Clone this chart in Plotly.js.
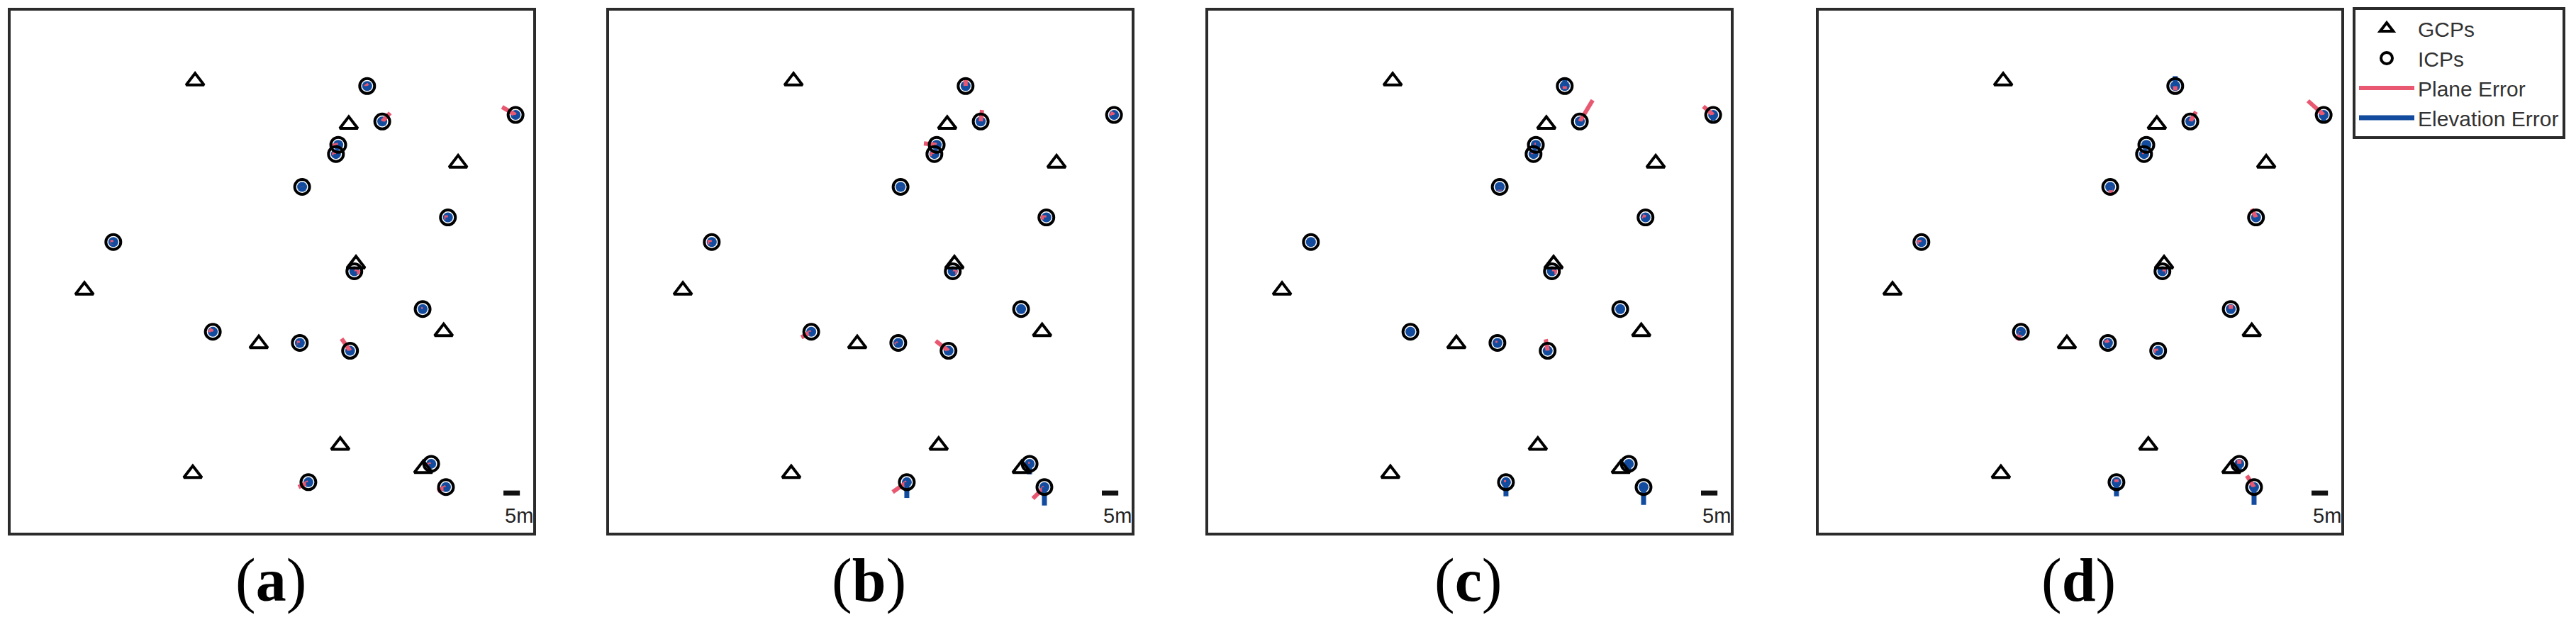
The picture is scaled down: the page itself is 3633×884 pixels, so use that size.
<!DOCTYPE html>
<html>
<head>
<meta charset="utf-8">
<script src="https://cdn.plot.ly/plotly-3.0.1.min.js"></script>
<style>
  html, body { margin: 0; padding: 0; background: #ffffff; }
  #chart { width: 3633px; height: 884px; }
</style>
</head>
<body>
<div id="chart"></div>
<script>
// ---------- data (metres, local site coordinates) ----------
const panelLabels = ['a', 'b', 'c', 'd'];

// ground control points
const gcpX = [56.6, 103.4, 136.7, 105.6, 22.9, 132.3, 76.0, 100.8, 55.9, 126.1];
const gcpY = [137.9, 124.7, 112.9, 82.2, 74.2, 61.6, 57.9, 27.0, 18.4, 19.9];

// independent check points
const icpX = [109.0, 154.2, 113.6, 100.2, 99.5, 89.2, 133.6, 31.7, 105.1, 125.9, 62.0, 88.5, 103.8, 128.5, 91.1, 133.0];
const icpY = [136.4, 127.6, 125.6, 118.5, 115.7, 105.7, 96.4, 88.9, 80.0, 68.5, 61.6, 58.2, 55.8, 21.4, 15.8, 14.3];

// plane error vectors (drawn, m) and elevation error (drawn vertically, m) per panel
const planeDxA = [-0.4, -4.1, 2.4, -1.9, -1.1, 0.0, -1.1, -0.9, 1.7, -0.4, -1.1, -0.9, -2.6, -1.3, -3.0, -2.6];
const planeDyA = [0.6, 2.4, 2.6, -0.4, 0.4, -0.6, 0.0, 0.0, -0.4, 0.0, 0.6, 0.0, 3.7, -0.6, -1.5, -1.1];
const elevDzA  = [-0.9, -0.8, -0.7, -0.9, -0.8, -0.9, -0.7, -0.6, -0.9, -0.8, -0.9, -0.6, -0.9, -0.9, -1.0, -0.9];

const planeDxB = [0.0, -1.1, 0.4, -3.9, -1.3, 0.0, -1.7, -1.3, 1.3, 0.0, -3.0, -0.9, -3.9, -0.4, -4.3, -3.5];
const planeDyB = [2.6, 0.6, 3.5, 0.4, 0.0, -0.6, 0.0, 0.0, -0.4, 0.0, -1.7, -0.6, 3.0, 0.0, -3.0, -3.5];
const elevDzB  = [-1.3, -1.0, -1.3, -0.9, -0.9, -0.9, -1.0, -0.6, -0.9, -1.3, -0.9, -1.3, -1.0, -3.2, -4.8, -5.6];

const planeDxC = [0.0, -3.0, 3.9, -0.4, -0.4, 0.0, -0.9, 0.0, 1.5, 0.0, 0.0, -0.6, -0.6, 0.0, -0.6, 0.0];
const planeDyC = [-0.9, 2.6, 6.5, 0.0, -0.4, -1.1, 0.4, 0.0, -0.4, 0.0, 0.0, 0.0, 3.5, 0.0, 0.0, 0.0];
const elevDzC  = [2.6, -1.7, -1.0, -0.9, -0.9, -0.9, -0.9, -1.0, -1.0, -0.9, -0.9, -1.0, -1.0, -2.6, -4.3, -5.4];

const planeDxD = [0.0, -4.8, 1.7, 0.0, -0.6, 0.4, -1.3, -1.3, 1.1, 0.0, -1.1, -0.6, -1.3, 0.0, 0.0, -2.2];
const planeDyD = [-1.3, 4.3, 3.0, 0.0, 0.0, -2.6, 2.6, 0.0, 0.0, 1.3, -2.6, 0.9, 0.0, 1.3, 0.9, 3.5];
const elevDzD  = [3.0, -2.2, -1.0, -0.9, -0.9, -1.0, -1.0, -0.9, -1.0, -1.3, -1.0, -1.7, -0.9, -2.6, -4.3, -5.4];

const scaleBarLength = 5;          // metres
const scaleBarLabel = '5m';
const legendNames = ['GCPs', 'ICPs', 'Plane Error', 'Elevation Error'];

// ---------- layout geometry (pixels) ----------
const W = 3633, H = 884;
const panelLeft = [13, 857, 1702, 2563];
const panelWidth = 741;
const panelTop = 13, panelBottom = 753;
const xRange = [0, 160];
const yRange = [0, 160 * (panelBottom - panelTop) / panelWidth];

const PINK = '#e95871';
const BLUE = '#134c9e';
const BOX = '#2b2b2b';

const planeDx = [planeDxA, planeDxB, planeDxC, planeDxD];
const planeDy = [planeDyA, planeDyB, planeDyC, planeDyD];
const elevDz = [elevDzA, elevDzB, elevDzC, elevDzD];

const traces = [];
const layout = {
  width: W, height: H,
  margin: {l: 0, r: 0, t: 0, b: 0},
  paper_bgcolor: '#ffffff', plot_bgcolor: '#ffffff',
  showlegend: true,
  legend: {
    x: 3318 / W, y: 1 - 10 / H, xanchor: 'left', yanchor: 'top',
    bgcolor: '#ffffff', bordercolor: BOX, borderwidth: 4,
    font: {family: 'Liberation Sans, Arial, sans-serif', size: 30, color: '#333333'},
    itemwidth: 78, tracegroupgap: 0, traceorder: 'normal'
  },
  shapes: [], annotations: []
};

for (let k = 0; k < 4; k++) {
  const sfx = k === 0 ? '' : String(k + 1);
  const xa = 'x' + sfx, ya = 'y' + sfx;
  const axBase = {showgrid: false, zeroline: false, showticklabels: false, ticks: '', showline: false, fixedrange: true};
  layout['xaxis' + sfx] = Object.assign({}, axBase, {
    domain: [panelLeft[k] / W, (panelLeft[k] + panelWidth) / W], range: xRange, anchor: ya
  });
  layout['yaxis' + sfx] = Object.assign({}, axBase, {
    domain: [1 - panelBottom / H, 1 - panelTop / H], range: yRange, anchor: xa
  });

  const show = k === 3;
  const px = [], py = [], ex = [], ey = [];
  for (let i = 0; i < icpX.length; i++) {
    px.push(icpX[i], icpX[i] + planeDx[k][i], null);
    py.push(icpY[i], icpY[i] + planeDy[k][i], null);
    ex.push(icpX[i], icpX[i], null);
    ey.push(icpY[i], icpY[i] + elevDz[k][i], null);
  }
  // centre dot of elevation error
  traces.push({
    type: 'scatter', mode: 'markers', xaxis: xa, yaxis: ya, x: icpX, y: icpY,
    marker: {symbol: 'circle', size: 14, color: BLUE, line: {width: 0}},
    showlegend: false, hoverinfo: 'skip'
  });
  traces.push({
    type: 'scatter', mode: 'lines', xaxis: xa, yaxis: ya, x: px, y: py,
    line: {color: PINK, width: 6}, name: legendNames[2], legendgroup: 'pe',
    legendrank: 3, showlegend: show, hoverinfo: 'skip'
  });
  traces.push({
    type: 'scatter', mode: 'lines', xaxis: xa, yaxis: ya, x: ex, y: ey,
    line: {color: BLUE, width: 7}, name: legendNames[3], legendgroup: 'ee',
    legendrank: 4, showlegend: show, hoverinfo: 'skip'
  });
  traces.push({
    type: 'scatter', mode: 'markers', xaxis: xa, yaxis: ya, x: icpX, y: icpY,
    marker: {symbol: 'circle-open', size: 21, color: '#000000', line: {width: 4, color: '#000000'}},
    name: legendNames[1], legendgroup: 'icp', legendrank: 2, showlegend: show, hoverinfo: 'skip'
  });
  traces.push({
    type: 'scatter', mode: 'markers', xaxis: xa, yaxis: ya, x: gcpX, y: gcpY,
    marker: {symbol: 'triangle-up-open', size: 22, color: '#000000', line: {width: 4, color: '#000000'}},
    name: legendNames[0], legendgroup: 'gcp', legendrank: 1, showlegend: show, hoverinfo: 'skip'
  });

  layout.shapes.push({
    type: 'rect', xref: xa + ' domain', yref: ya + ' domain', x0: 0, x1: 1, y0: 0, y1: 1,
    line: {color: BOX, width: 4}, layer: 'above'
  });
  const sbX0 = xRange[1] - 9.5, sbY = yRange[0] + 12.5;
  layout.shapes.push({
    type: 'line', xref: xa, yref: ya, x0: sbX0, x1: sbX0 + scaleBarLength, y0: sbY, y1: sbY,
    line: {color: '#111111', width: 7}, layer: 'above'
  });
  layout.annotations.push({
    xref: xa, yref: ya, x: sbX0, y: yRange[0] + 5.6, xanchor: 'left', yanchor: 'middle',
    text: scaleBarLabel, showarrow: false,
    font: {family: 'Liberation Sans, Arial, sans-serif', size: 29, color: '#222222'}
  });
  layout.annotations.push({
    xref: 'paper', yref: 'paper', x: (panelLeft[k] + panelWidth / 2 - 2) / W, y: 1 - 818 / H,
    xanchor: 'center', yanchor: 'middle', showarrow: false,
    text: '(<b>' + panelLabels[k] + '</b>)',
    font: {family: 'Liberation Serif, Times New Roman, serif', size: 86, color: '#000000'}
  });
}

Plotly.newPlot('chart', traces, layout, {staticPlot: true, displayModeBar: false});
</script>
</body>
</html>
